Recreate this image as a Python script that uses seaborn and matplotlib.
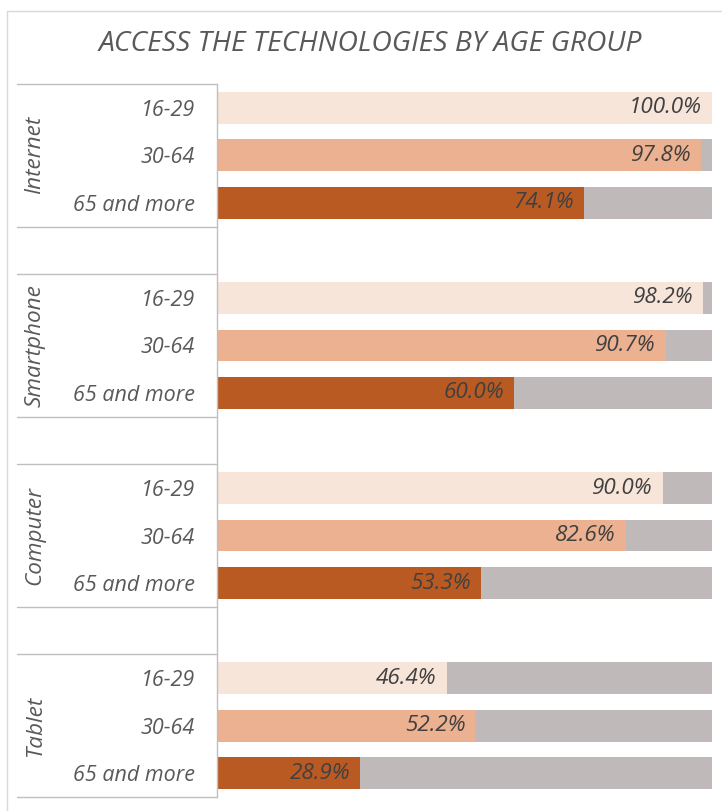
import matplotlib
matplotlib.use("Agg")
import matplotlib.pyplot as plt
import matplotlib.transforms as mtransforms
from matplotlib.patches import Rectangle
import seaborn as sns
import pandas as pd

# --- data ---------------------------------------------------------------
technologies = ["Internet", "Smartphone", "Computer", "Tablet"]
age_groups = ["16-29", "30-64", "65 and more"]
access_16_29 = [100.0, 98.2, 90.0, 46.4]
access_30_64 = [97.8, 90.7, 82.6, 52.2]
access_65_more = [74.1, 60.0, 53.3, 28.9]

title = "ACCESS THE TECHNOLOGIES BY AGE GROUP"
age_colors = {"16-29": "#F8E5DA", "30-64": "#EBB190", "65 and more": "#BA5A23"}
rest_color = "#BFB9B9"
text_color = "#404040"
label_color = "#595959"

# --- long table with one row per bar ----------------------------------
rows = []
for i, tech in enumerate(technologies):
    for age, vals in zip(age_groups, [access_16_29, access_30_64, access_65_more]):
        rows.append({"slot": f"{tech}|{age}", "tech": tech, "age": age,
                     "value": vals[i], "total": 100.0})
df = pd.DataFrame(rows)

# slot order: three bars per technology, an empty slot between groups
order = []
for i, tech in enumerate(technologies):
    order += [f"{tech}|{a}" for a in age_groups]
    if i < len(technologies) - 1:
        order.append(f"gap{i}")

sns.set_theme(style="white")
plt.rcParams["font.family"] = ["Open Sans", "DejaVu Sans"]

FS_VAL, FS_TICK, FS_GROUP = 16.2, 15.5, 16.2
W, H, DPI = 722, 811, 100
fig = plt.figure(figsize=(W / DPI, H / DPI), dpi=DPI)
ax_left, ax_right, ax_top, ax_bottom = 217, 712, 84, 797
ax = fig.add_axes([ax_left / W, 1 - ax_bottom / H,
                   (ax_right - ax_left) / W, (ax_bottom - ax_top) / H])

bar_h = 0.67
# grey remainder (full 100% track) underneath
sns.barplot(data=df, y="slot", x="total", order=order, color=rest_color,
            orient="y", width=bar_h, linewidth=0, saturation=1, ax=ax)
# coloured share per age group
sns.barplot(data=df, y="slot", x="value", order=order, hue="age",
            hue_order=age_groups, palette=age_colors, dodge=False,
            orient="y", width=bar_h, linewidth=0, saturation=1,
            legend=False, ax=ax)

ax.set_xlim(0, 100)
ax.set_ylim(len(order) - 0.5, -0.5)
ax.set_xlabel("")
ax.set_ylabel("")
ax.set_xticks([])

# value labels inside bar ends
for _, r in df.iterrows():
    y = order.index(r["slot"])
    ax.annotate(f"{r['value']:.1f}%", xy=(r["value"], y),
                xytext=(-10, 0), textcoords="offset pixels",
                ha="right", va="center", fontsize=FS_VAL, style="italic",
                color=text_color)

# age tick labels
tick_pos = [order.index(s) for s in df["slot"]]
ax.set_yticks(tick_pos)
ax.set_yticklabels(df["age"], fontsize=FS_TICK, style="italic", color=label_color)
ax.tick_params(axis="y", length=0, pad=16)

for side in ["top", "right", "bottom"]:
    ax.spines[side].set_visible(False)
ax.spines["left"].set_color("#BFBFBF")
ax.spines["left"].set_linewidth(1.0)

# category axis: group labels and separator lines
blend = mtransforms.blended_transform_factory(ax.transAxes, ax.transData)
x_line0 = (17 - ax_left) / (ax_right - ax_left)
group_x = (35 - ax_left) / (ax_right - ax_left)
bounds = [-0.5]
for i, tech in enumerate(technologies):
    first = order.index(f"{tech}|{age_groups[0]}")
    last = order.index(f"{tech}|{age_groups[-1]}")
    ax.text(group_x, (first + last) / 2, tech, transform=blend, rotation=90,
            ha="center", va="center", fontsize=FS_GROUP, style="italic",
            color=label_color, clip_on=False)
    bounds += [first - 0.5, last + 0.5]
for b in sorted(set(bounds)):
    ax.plot([x_line0, 0], [b, b], transform=blend, color="#BFBFBF",
            linewidth=1.0, clip_on=False)

# chart frame and title
fig.patches.append(Rectangle((7 / W, -0.1), 1.2, 1 + 0.1 - 11 / H,
                             transform=fig.transFigure, fill=False,
                             edgecolor="#D9D9D9", linewidth=1.0))
fig.text(370 / W, 1 - 44 / H, title, ha="center", va="center",
         fontsize=20.3, style="italic", color="#595959")

fig.savefig("out.png", dpi=DPI, facecolor="white")
